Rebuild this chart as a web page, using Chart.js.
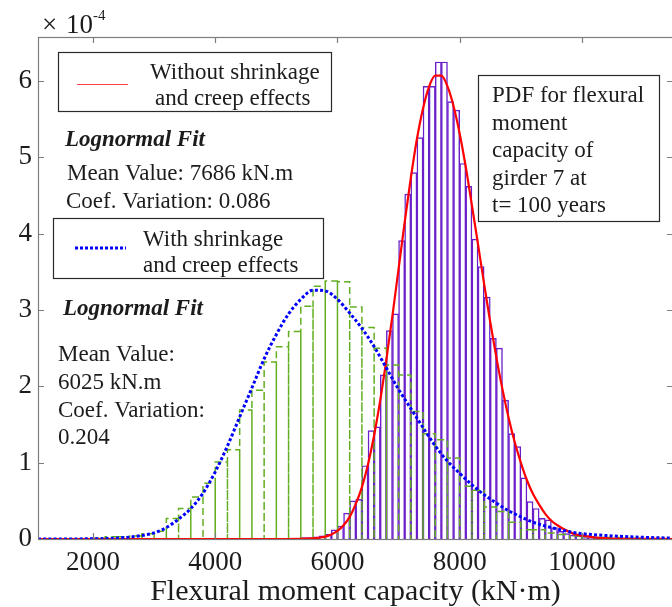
<!DOCTYPE html>
<html>
<head>
<meta charset="utf-8">
<script src="https://cdn.jsdelivr.net/npm/chart.js@4.4.1/dist/chart.umd.min.js"></script>
<style>
  html, body { margin: 0; padding: 0; overflow: hidden; background: #fff; }
  canvas { display: block; }
</style>
</head>
<body>
<canvas id="pdf" width="676" height="607" style="width:676px;height:607px"></canvas>
<script>
// Probability densities are given in units of 1e-4 per kN·m.
const xTickValues = [2000, 4000, 6000, 8000, 10000];
const yTickValues = [0, 1, 2, 3, 4, 5, 6];

// Histogram without shrinkage and creep (bins 100 kN·m wide, left edges)
const noShrinkEdges = [5400, 5500, 5600, 5700, 5800, 5900, 6000, 6100, 6200, 6300,
  6400, 6500, 6600, 6700, 6800, 6900, 7000, 7100, 7200, 7300,
  7400, 7500, 7600, 7700, 7800, 7900, 8000, 8100, 8200, 8300,
  8400, 8500, 8600, 8700, 8800, 8900, 9000, 9100, 9200, 9300,
  9400, 9500, 9600, 9700, 9800, 9900, 10000, 10100, 10200];
const noShrinkDensity = [0.02, 0.02, 0.03, 0.04, 0.06, 0.12, 0.17, 0.34, 0.50, 0.52,
  0.96, 1.42, 1.47, 2.15, 2.73, 2.95, 3.91, 4.52, 4.80, 5.26,
  5.93, 5.93, 6.25, 6.25, 5.73, 5.62, 4.92, 4.62, 3.93, 3.57,
  3.17, 2.63, 2.50, 1.82, 1.38, 1.21, 0.80, 0.49, 0.40, 0.27,
  0.25, 0.15, 0.10, 0.07, 0.05, 0.04, 0.02, 0.02, 0.01];
const noShrinkBinWidth = 100;

// Histogram with shrinkage and creep (bins 200 kN·m wide, left edges)
const shrinkEdges = [2000, 2200, 2400, 2600, 2800, 3000, 3200, 3400, 3600, 3800,
  4000, 4200, 4400, 4600, 4800, 5000, 5200, 5400, 5600, 5800,
  6000, 6200, 6400, 6600, 6800, 7000, 7200, 7400, 7600, 7800,
  8000, 8200, 8400, 8600, 8800, 9000, 9200, 9400, 9600, 9800,
  10000, 10200, 10400, 10600, 10800];
const shrinkDensity = [0.01, 0.03, 0.03, 0.04, 0.07, 0.10, 0.27, 0.40, 0.55, 0.73,
  1.01, 1.17, 1.69, 1.95, 2.32, 2.52, 2.72, 3.05, 3.31, 3.38,
  3.37, 3.04, 2.77, 2.50, 2.28, 2.15, 1.67, 1.38, 1.30, 1.06,
  0.69, 0.64, 0.42, 0.36, 0.22, 0.12, 0.12, 0.08, 0.06, 0.04,
  0.03, 0.02, 0.02, 0.01, 0.01];
const shrinkBinWidth = 200;

// Lognormal fit, without shrinkage and creep
const fitNoShrinkX = [1100, 3000, 5000, 5400, 5600, 5700, 5800, 5900, 6000, 6100,
  6200, 6300, 6400, 6500, 6600, 6700, 6800, 6900, 7000, 7100,
  7200, 7300, 7400, 7500, 7600, 7700, 7800, 7900, 8000, 8100,
  8200, 8300, 8400, 8500, 8600, 8700, 8800, 8900, 9000, 9100,
  9200, 9300, 9400, 9500, 9600, 9700, 9800, 9900, 10000, 10200,
  10400, 10600, 10800, 11490];
const fitNoShrinkY = [0, 0, 0, 0.001, 0.008, 0.016, 0.031, 0.059, 0.105, 0.18,
  0.29, 0.46, 0.68, 0.98, 1.36, 1.82, 2.35, 2.93, 3.54, 4.15,
  4.73, 5.24, 5.64, 5.93, 6.07, 6.07, 5.93, 5.67, 5.31, 4.87,
  4.37, 3.86, 3.34, 2.84, 2.38, 1.96, 1.59, 1.27, 1.00, 0.77,
  0.59, 0.45, 0.33, 0.24, 0.18, 0.13, 0.09, 0.06, 0.045, 0.021,
  0.010, 0.004, 0.002, 0];

// Lognormal fit, with shrinkage and creep
const fitShrinkX = [1100, 2000, 2400, 2700, 3000, 3200, 3400, 3600, 3800, 4000,
  4200, 4400, 4600, 4800, 5000, 5200, 5400, 5600, 5800, 6000,
  6200, 6400, 6600, 6800, 7000, 7200, 7400, 7600, 7800, 8000,
  8200, 8400, 8600, 8800, 9000, 9200, 9400, 9600, 9800, 10000,
  10400, 10800, 11200, 11490];
const fitShrinkY = [0, 0.003, 0.012, 0.035, 0.08, 0.15, 0.26, 0.40, 0.60, 0.88,
  1.22, 1.60, 1.98, 2.36, 2.68, 2.95, 3.14, 3.26, 3.25, 3.14,
  2.96, 2.76, 2.52, 2.24, 1.96, 1.71, 1.46, 1.22, 1.02, 0.86,
  0.71, 0.58, 0.47, 0.37, 0.29, 0.22, 0.17, 0.13, 0.095, 0.07,
  0.045, 0.028, 0.017, 0.012];

const SERIF = "'Liberation Serif', 'Times New Roman', 'DejaVu Serif', serif";
const PURPLE = '#6a1fca';
const GREEN = '#63ae20';
const TEXT = '#1c1c1c';

// bars: centre of each bin
const noShrinkBars = noShrinkEdges.map((e, i) => ({ x: e + noShrinkBinWidth / 2, y: noShrinkDensity[i] }));

// dashed outline of each 200 kN·m bin
const shrinkOutline = [];
shrinkEdges.forEach((e, i) => {
  const h = shrinkDensity[i];
  shrinkOutline.push({ x: e, y: 0 }, { x: e, y: h },
                     { x: e + shrinkBinWidth, y: h }, { x: e + shrinkBinWidth, y: 0 });
});

const fitNoShrink = fitNoShrinkX.map((x, i) => ({ x, y: fitNoShrinkY[i] }));
const fitShrink = fitShrinkX.map((x, i) => ({ x, y: fitShrinkY[i] }));

function text(ctx, str, x, y, size, style) {
  ctx.font = (style ? style + ' ' : '') + size + 'px ' + SERIF;
  ctx.fillStyle = TEXT;
  ctx.textAlign = 'left';
  ctx.textBaseline = 'alphabetic';
  ctx.fillText(str, x, y);
}

function box(ctx, x0, y0, x1, y1) {
  ctx.fillStyle = '#fff';
  ctx.fillRect(x0, y0, x1 - x0, y1 - y0);
  ctx.strokeStyle = '#2a2a2a';
  ctx.lineWidth = 1.2;
  ctx.strokeRect(x0 + 0.5, y0 + 0.5, x1 - x0, y1 - y0);
}

const frame = {
  id: 'frame',
  afterDatasetsDraw(chart) {
    const { ctx, chartArea: a, scales: { x, y } } = chart;
    ctx.save();
    ctx.strokeStyle = '#7d7d7d';
    ctx.lineWidth = 1.2;
    ctx.strokeRect(a.left + 0.5, a.top + 0.5, a.right - a.left, a.bottom - a.top);
    const tl = 6;
    ctx.beginPath();
    xTickValues.forEach(v => {
      const px = Math.round(x.getPixelForValue(v)) + 0.5;
      ctx.moveTo(px, a.bottom); ctx.lineTo(px, a.bottom - tl);
      ctx.moveTo(px, a.top); ctx.lineTo(px, a.top + tl);
    });
    yTickValues.forEach(v => {
      const py = Math.round(y.getPixelForValue(v)) + 0.5;
      ctx.moveTo(a.left, py); ctx.lineTo(a.left + tl, py);
      ctx.moveTo(a.right, py); ctx.lineTo(a.right - tl, py);
    });
    ctx.stroke();
    ctx.restore();
  },
  afterDraw(chart) {
    const { ctx } = chart;
    ctx.save();
    // axis multiplier
    text(ctx, '\u00d7', 42, 33, 27);
    text(ctx, '10', 66, 33, 27);
    text(ctx, '-4', 93, 20, 15);

    // legend: without shrinkage
    box(ctx, 58, 52, 331, 111);
    ctx.strokeStyle = '#ff4040';
    ctx.lineWidth = 1;
    ctx.beginPath(); ctx.moveTo(77, 84.5); ctx.lineTo(128, 84.5); ctx.stroke();
    text(ctx, 'Without shrinkage', 150, 79, 23);
    text(ctx, 'and creep effects', 155, 105, 23);

    text(ctx, 'Lognormal Fit', 65, 146, 23, 'italic bold');
    text(ctx, 'Mean Value: 7686 kN.m', 67, 180, 23);
    text(ctx, 'Coef. Variation: 0.086', 66, 208, 23);

    // legend: with shrinkage
    box(ctx, 53, 218, 323, 278);
    ctx.strokeStyle = '#0000ff';
    ctx.lineWidth = 3;
    ctx.setLineDash([3, 2]);
    ctx.beginPath(); ctx.moveTo(75, 248); ctx.lineTo(126, 248); ctx.stroke();
    ctx.setLineDash([]);
    text(ctx, 'With shrinkage', 143, 246, 23);
    text(ctx, 'and creep effects', 143, 272, 23);

    text(ctx, 'Lognormal Fit', 63, 315, 23, 'italic bold');
    text(ctx, 'Mean Value:', 58, 361, 23);
    text(ctx, '6025 kN.m', 58, 389, 23);
    text(ctx, 'Coef. Variation:', 58, 417, 23);
    text(ctx, '0.204', 58, 444, 23);

    // description
    box(ctx, 478, 75, 659, 221);
    ['PDF for flexural', 'moment', 'capacity of', 'girder 7 at', 't= 100 years']
      .forEach((s, i) => text(ctx, s, 492, 102 + i * 27.5, 23));
    ctx.restore();
  }
};

new Chart(document.getElementById('pdf'), {
  type: 'bar',
  data: {
    datasets: [
      {
        type: 'line', label: 'With shrinkage and creep effects (fit)', data: fitShrink,
        borderColor: '#0000ff', borderWidth: 3, borderDash: [3, 2.2], borderCapStyle: 'butt',
        pointRadius: 0, cubicInterpolationMode: 'monotone', order: 0
      },
      {
        type: 'line', label: 'Without shrinkage and creep effects (fit)', data: fitNoShrink,
        borderColor: '#ff0000', borderWidth: 2.2, pointRadius: 0,
        cubicInterpolationMode: 'monotone', order: 1
      },
      {
        type: 'line', label: 'With shrinkage and creep effects', data: shrinkOutline,
        borderColor: GREEN, borderWidth: 1.5, borderDash: [7, 4], pointRadius: 0,
        tension: 0, order: 2
      },
      {
        type: 'bar', label: 'Without shrinkage and creep effects', data: noShrinkBars,
        backgroundColor: 'rgba(0,0,0,0)', borderColor: PURPLE, borderWidth: 0.8,
        barPercentage: 1, categoryPercentage: 1, order: 3
      }
    ]
  },
  options: {
    responsive: false,
    animation: false,
    devicePixelRatio: 1,
    layout: { padding: { top: 37, right: 3, left: 0, bottom: 0 } },
    plugins: { legend: { display: false }, tooltip: { enabled: false } },
    scales: {
      x: {
        type: 'linear', min: 1100, max: 11490, offset: false,
        grid: { display: false, drawTicks: false }, border: { display: false },
        afterBuildTicks: s => { s.ticks = xTickValues.map(v => ({ value: v })); },
        afterFit: s => { s.height = 68; },
        ticks: {
          color: TEXT, font: { family: SERIF, size: 27 }, padding: 8, maxRotation: 0,
          callback: v => String(v)
        },
        title: {
          display: true, text: 'Flexural moment capacity (kN\u00b7m)', color: TEXT,
          font: { family: SERIF, size: 30, lineHeight: 1 }, padding: { top: 0, bottom: 0 }
        }
      },
      y: {
        type: 'linear', min: 0, max: 6.577,
        grid: { display: false, drawTicks: false }, border: { display: false },
        afterBuildTicks: s => { s.ticks = yTickValues.map(v => ({ value: v })); },
        afterFit: s => { s.width = 38; },
        ticks: { color: TEXT, font: { family: SERIF, size: 27 }, padding: 6, callback: v => String(v) }
      }
    }
  },
  plugins: [frame]
});
</script>
</body>
</html>
